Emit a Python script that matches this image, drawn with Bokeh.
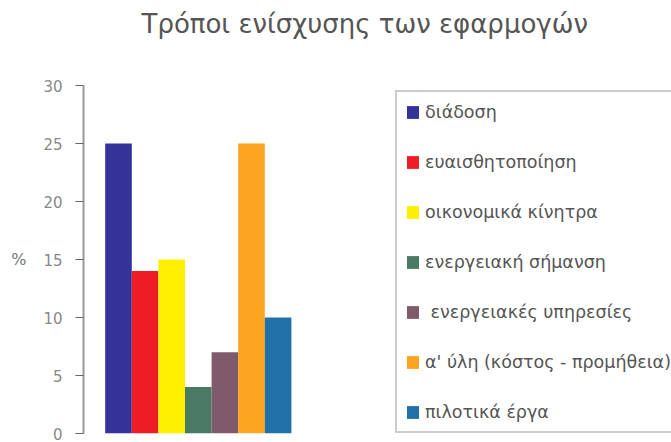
from bokeh.plotting import figure
from bokeh.layouts import column
from bokeh.models import Range1d, Legend, LegendItem, SingleIntervalTicker
from bokeh.embed import file_html
from bokeh.resources import INLINE

title = "Τρόποι ενίσχυσης των εφαρμογών"
y_label = "%"
categories = ["διάδοση", "ευαισθητοποίηση", "οικονομικά κίνητρα", "ενεργειακή σήμανση",
              " ενεργειακές υπηρεσίες", "α' ύλη (κόστος - προμήθεια)", "πιλοτικά έργα"]
values = [25, 14, 15, 4, 7, 25, 10]
colors = ["#333399", "#ee1d25", "#fff000", "#4a7a63", "#7f5a6b", "#fca420", "#2170a8"]
y_min, y_max = 0, 30

W = 671
TITLE_H = 77
PLOT_H = 442 - TITLE_H

# title strip
t = figure(width=W, height=TITLE_H, output_backend="svg", toolbar_location=None,
           min_border=0, title=title, x_range=Range1d(0, 1), y_range=Range1d(0, 1))
t.axis.visible = False
t.grid.visible = False
t.outline_line_color = None
t.title.align = "left"
t.title.offset = 58
t.title.text_font = "DejaVu Sans"
t.title.text_font_size = "26px"
t.title.text_font_style = "normal"
t.title.text_color = "#555555"
t.title.standoff = 12

# chart
p = figure(width=W, height=PLOT_H, output_backend="svg", toolbar_location=None,
           x_range=Range1d(-1.316, 20.79), y_range=Range1d(y_min, y_max),
           min_border_left=83, min_border_right=0, min_border_top=8, min_border_bottom=9)
p.outline_line_color = None
p.grid.visible = False
p.xaxis.visible = False
p.background_fill_color = "white"
p.border_fill_color = "white"

items = []
for i, (c, v, col) in enumerate(zip(categories, values, colors)):
    r = p.vbar(x=[i], top=[v], bottom=0, width=1.0, fill_color=col, line_color=col, line_width=0)
    items.append(LegendItem(label=c, renderers=[r]))

yax = p.yaxis[0]
yax.ticker = SingleIntervalTicker(interval=5)
yax.axis_line_color = "#999999"
yax.axis_line_width = 2
yax.major_tick_line_color = "#666666"
yax.major_tick_out = 8
yax.major_tick_in = 0
yax.minor_tick_line_color = None
yax.major_label_standoff = 13
yax.major_label_text_color = "#888888"
yax.major_label_text_font = "DejaVu Sans"
yax.major_label_text_font_size = "15px"
yax.axis_label = y_label
yax.axis_label_text_font = "DejaVu Sans"
yax.axis_label_text_font_size = "16px"
yax.axis_label_text_font_style = "normal"
yax.axis_label_text_color = "#777777"
yax.axis_label_standoff = 14
try:
    yax.axis_label_orientation = "horizontal"
except Exception:
    pass

legend = Legend(items=items, location=(312, 0), orientation="vertical",
                padding=8, spacing=27, glyph_height=16, glyph_width=15,
                label_height=23, label_standoff=5, margin=0,
                border_line_color="#999999", border_line_width=2,
                label_text_color="#555555", label_text_font="DejaVu Sans",
                label_text_font_size="17.5px", background_fill_alpha=1.0)
p.add_layout(legend, "center")

layout = column(t, p, spacing=0)
open("out.html", "w").write(file_html(layout, INLINE))
